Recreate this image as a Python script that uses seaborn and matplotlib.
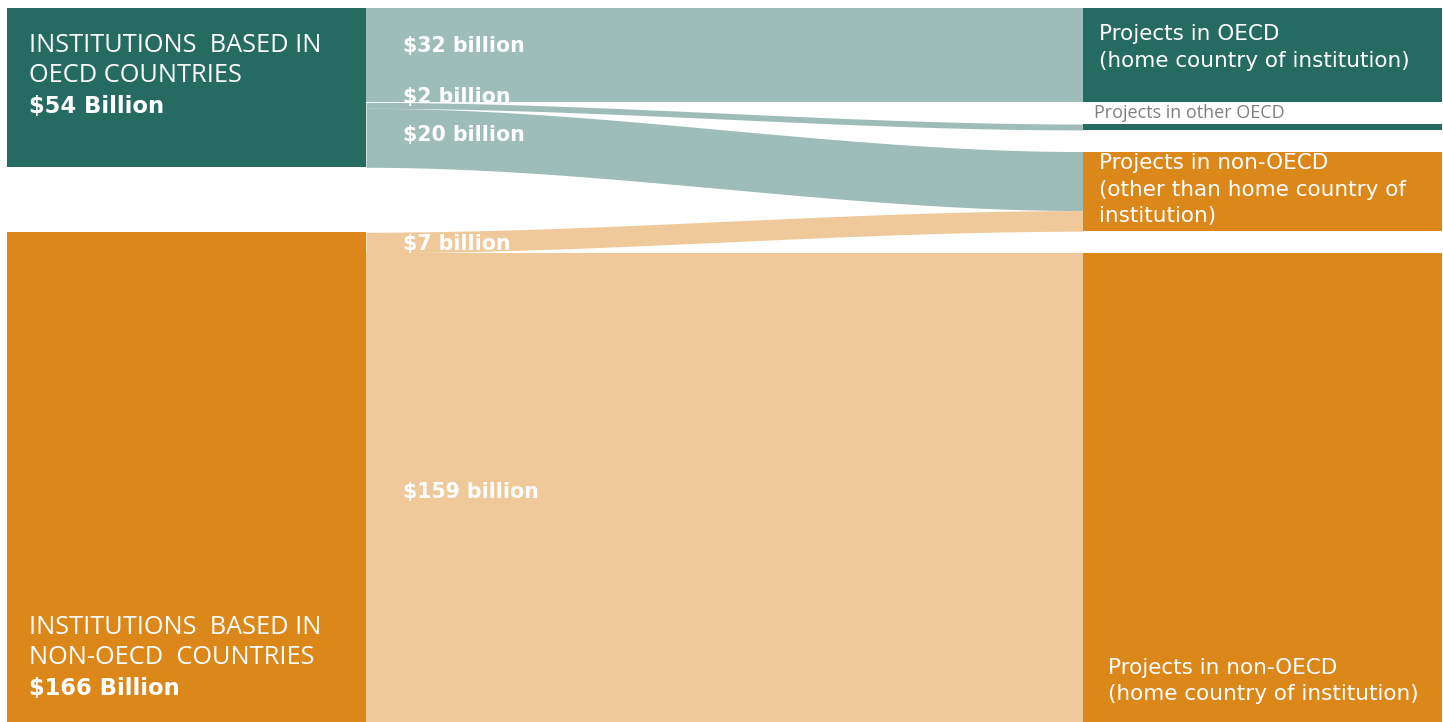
import matplotlib.pyplot as plt
import seaborn as sns
import numpy as np

# данные потоков, млрд $
sources = ['OECD', 'non-OECD']
source_totals = [54, 166]
targets = ['OECD home', 'other OECD', 'non-OECD other', 'non-OECD home']
flow_src = ['OECD', 'OECD', 'OECD', 'non-OECD', 'non-OECD']
flow_dst = ['OECD home', 'other OECD', 'non-OECD other', 'non-OECD other', 'non-OECD home']
flow_val = [32, 2, 20, 7, 159]
flow_labels = ['$32 billion', '$2 billion', '$20 billion', '$7 billion', '$159 billion']

TEAL = '#256b61'
TEAL_LINK = '#9ebdb8'
ORANGE = '#dc8719'
ORANGE_LINK = '#f0c99b'

W, H = 1443, 722
X_L0, X_L1 = 7, 366
X_R0, X_R1 = 1083, 1442
LEFT_GAP = 22.0
TOP = -2.7
WIDE = ['DejaVu Sans']


def smooth(t):
    return 3 * t ** 2 - 2 * t ** 3


def main():
    sns.set_theme(style='white')
    plt.rcParams['font.family'] = ['Open Sans', 'DejaVu Sans']

    fig = plt.figure(figsize=(W / 100, H / 100), dpi=100)
    ax = fig.add_axes([0, 0, 1, 1])
    total = sum(source_totals)
    bottom = total + LEFT_GAP
    ax.set_xlim(0, W)
    ax.set_ylim(bottom, TOP)
    ax.axis('off')

    # позиции узлов слева
    src_pos = {}
    y = 0
    for name, val in zip(sources, source_totals):
        src_pos[name] = [y, y + val]
        y += val + LEFT_GAP

    # позиции узлов справа
    dst_tot = {t: 0 for t in targets}
    for d, v in zip(flow_dst, flow_val):
        dst_tot[d] += v
    right_gap = (bottom - total) / (len(targets) - 1)
    dst_pos = {}
    y = 0
    for t in targets:
        dst_pos[t] = [y, y + dst_tot[t]]
        y += dst_tot[t] + right_gap

    src_color = {'OECD': (TEAL, TEAL_LINK), 'non-OECD': (ORANGE, ORANGE_LINK)}
    dst_color = {'OECD home': TEAL, 'other OECD': TEAL,
                 'non-OECD other': ORANGE, 'non-OECD home': ORANGE}

    # связи
    src_cur = {k: v[0] for k, v in src_pos.items()}
    dst_cur = {k: v[0] for k, v in dst_pos.items()}
    xs = np.linspace(X_L1, X_R0, 300)
    t = smooth((xs - X_L1) / (X_R0 - X_L1))
    for s, d, v in zip(flow_src, flow_dst, flow_val):
        s0, d0 = src_cur[s], dst_cur[d]
        top = s0 + (d0 - s0) * t
        ax.fill_between(xs, top, top + v, color=src_color[s][1], lw=0)
        src_cur[s] += v
        dst_cur[d] += v

    # узлы
    for name in sources:
        y0, y1 = src_pos[name]
        ax.bar(X_L0, y1 - y0, bottom=y0, width=X_L1 - X_L0, align='edge',
               color=src_color[name][0], lw=0)
    for name in targets:
        y0, y1 = dst_pos[name]
        ax.bar(X_R0, y1 - y0, bottom=y0, width=X_R1 - X_R0, align='edge',
               color=dst_color[name], lw=0)

    S = H / (bottom - TOP)

    def yp(px):
        return px / S + TOP

    # подписи потоков
    label_y = [46, 97, 135, 244, 492]
    for lab, py in zip(flow_labels, label_y):
        ax.text(403, yp(py), lab, color='white', fontsize=14.8, fontweight='bold',
                va='center', ha='left', family=WIDE)

    # подписи источников
    big = dict(color='white', fontsize=18.3, va='center')
    bold = dict(color='white', fontsize=16.3, va='center', fontweight='bold', family=WIDE)
    ax.text(29, yp(46), 'INSTITUTIONS  BASED IN', **big)
    ax.text(29, yp(76), 'OECD COUNTRIES', **big)
    ax.text(29, yp(107), '$%d Billion' % source_totals[0], **bold)
    ax.text(29, yp(627), 'INSTITUTIONS  BASED IN', **big)
    ax.text(29, yp(657), 'NON-OECD  COUNTRIES', **big)
    ax.text(29, yp(688), '$%d Billion' % source_totals[1], **bold)

    # подписи целей
    lab = dict(color='white', fontsize=15.5, va='center', family=WIDE)
    ax.text(1099, yp(34), 'Projects in OECD', **lab)
    ax.text(1099, yp(61), '(home country of institution)', **lab)
    ax.text(1094, yp(113), 'Projects in other OECD', color='#7f7f7f', fontsize=13,
            va='center')
    ax.text(1099, yp(163), 'Projects in non-OECD', **lab)
    ax.text(1099, yp(190), '(other than home country of', **lab)
    ax.text(1099, yp(216), 'institution)', **lab)
    ax.text(1108, yp(668), 'Projects in non-OECD', **lab)
    ax.text(1108, yp(694), '(home country of institution)', **lab)

    plt.savefig('out.png', dpi=100)


if __name__ == '__main__':
    main()
